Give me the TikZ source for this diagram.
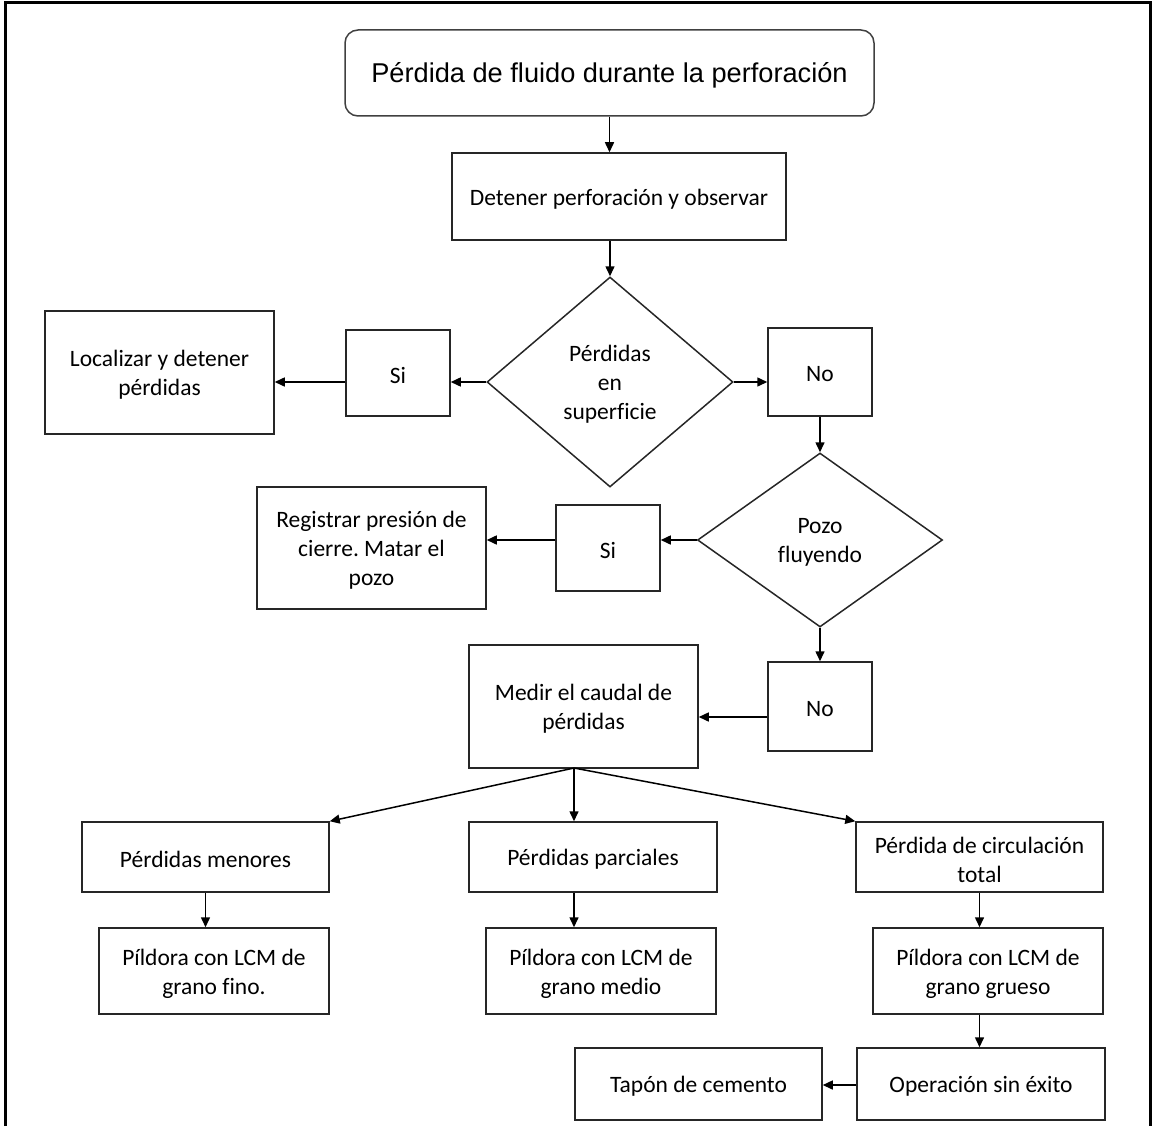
\documentclass[tikz,border=0pt]{standalone}
\usepackage{fontspec}
\usetikzlibrary{shapes.geometric,arrows.meta}
\newfontfamily\carlito[Ligatures=NoCommon]{Carlito}
\newfontfamily\arialf{Liberation Sans}
\frenchspacing
\begin{document}
\begin{tikzpicture}[x=1pt,y=1pt,
  box/.style={draw=black!85, line width=1.5pt, rectangle, inner sep=0pt},
  dec/.style={draw=black!85, line width=1.5pt, diamond, inner sep=0pt},
  lab/.style={inner sep=0pt, align=center, font=\carlito\fontsize{23.5}{29}\selectfont},
  titlebox/.style={draw=black!75, line width=1.5pt, rectangle, rounded corners=13pt, inner sep=0pt},
  titlelab/.style={inner sep=0pt, align=center, font=\arialf\fontsize{27.2}{32}\selectfont},
  arr/.style={draw=black, line width=1.5pt, -{Triangle[length=10pt,width=9pt]}}
]
\useasboundingbox (0,0) rectangle (1155,-1126);
\draw[line width=3pt] (5,-1126) -- (5,-3) -- (1150,-3) -- (1150,-1126);

\node[titlebox, minimum width=529, minimum height=86] (title) at (609.5,-73) {};
\node[box, minimum width=334, minimum height=87] (det) at (619,-196.5) {};
\node[dec, minimum width=246, minimum height=210] (d1) at (610,-382) {};
\node[box, minimum width=104, minimum height=86] (si1) at (398,-373) {};
\node[box, minimum width=229, minimum height=123] (loc) at (159.5,-372.5) {};
\node[box, minimum width=104, minimum height=88] (no1) at (820,-372) {};
\node[dec, minimum width=245, minimum height=174] (d2) at (820,-540) {};
\node[box, minimum width=104, minimum height=86] (si2) at (608,-548) {};
\node[box, minimum width=229, minimum height=122] (reg) at (371.5,-548) {};
\node[box, minimum width=104, minimum height=89] (no2) at (820,-706.5) {};
\node[box, minimum width=229, minimum height=123] (med) at (583.5,-706.5) {};
\node[box, minimum width=247, minimum height=70] (pm) at (205.5,-857) {};
\node[box, minimum width=248, minimum height=70] (pp) at (593,-857) {};
\node[box, minimum width=247, minimum height=70] (pc) at (979.5,-857) {};
\node[box, minimum width=230, minimum height=86] (pil1) at (214,-971) {};
\node[box, minimum width=230, minimum height=86] (pil2) at (601,-971) {};
\node[box, minimum width=230, minimum height=86] (pil3) at (988,-971) {};
\node[box, minimum width=248, minimum height=72] (op) at (981,-1084) {};
\node[box, minimum width=247, minimum height=72] (tap) at (698.5,-1084) {};

\node[titlelab] (titlet) at ([yshift=-2.5pt]title.center) {Pérdida de fluido durante la perforación};
\node[lab] (dett) at ([yshift=-2.5pt]det.center) {Detener perforación y observar};
\node[lab] (d1t) at ([yshift=-2.5pt]d1.center) {Pérdidas\\en\\superficie};
\node[lab] (si1t) at ([yshift=-2.5pt]si1.center) {Si};
\node[lab] (loct) at ([yshift=-2.5pt]loc.center) {Localizar y detener\\pérdidas};
\node[lab] (no1t) at ([yshift=-2.5pt]no1.center) {No};
\node[lab] (d2t) at ([yshift=-2.5pt]d2.center) {Pozo\\fluyendo};
\node[lab] (si2t) at ([yshift=-2.5pt]si2.center) {Si};
\node[lab] (regt) at ([yshift=-2.5pt]reg.center) {Registrar presión de\\cierre. Matar el\\pozo};
\node[lab] (no2t) at ([yshift=-2.5pt]no2.center) {No};
\node[lab] (medt) at ([yshift=-2.5pt]med.center) {Medir el caudal de\\pérdidas};
\node[lab] (pmt) at ([yshift=-2.5pt]pm.center) {Pérdidas menores};
\node[lab] (ppt) at ([yshift=-2.5pt]pp.center) {Pérdidas parciales};
\node[lab] (pct) at ([yshift=-2.5pt]pc.center) {Pérdida de circulación\\total};
\node[lab] (pil1t) at ([yshift=-2.5pt]pil1.center) {Píldora con LCM de\\grano fino.};
\node[lab] (pil2t) at ([yshift=-2.5pt]pil2.center) {Píldora con LCM de\\grano medio};
\node[lab] (pil3t) at ([yshift=-2.5pt]pil3.center) {Píldora con LCM de\\grano grueso};
\node[lab] (opt) at ([yshift=-2.5pt]op.center) {Operación sin éxito};
\node[lab] (tapt) at ([yshift=-2.5pt]tap.center) {Tapón de cemento};

\coordinate (mb) at (574,-768);
\coordinate (la) at (0,-717);
\coordinate (lb) at (0,-1085);

\draw[arr] (title.south) -- (title.south |- det.north);
\draw[arr] (d1.north |- det.south) -- (d1.north);
\draw[arr] (d1.west) -- (d1.west -| si1.east);
\draw[arr] (si1.west |- d1.west) -- (loc.east |- d1.west);
\draw[arr] (d1.east) -- (d1.east -| no1.west);
\draw[arr] (no1.south) -- (d2.north);
\draw[arr] (d2.west) -- (d2.west -| si2.east);
\draw[arr] (si2.west |- d2.west) -- (reg.east |- d2.west);
\draw[arr] (d2.south) -- (no2.north);
\draw[arr] (no2.west |- la) -- (med.east |- la);
\draw[arr] (mb) -- (pm.north east);
\draw[arr] (mb) -- (mb |- pp.north);
\draw[arr] (mb) -- (pc.north west);
\draw[arr] (pm.south) -- (pm.south |- pil1.north);
\draw[arr] (mb |- pp.south) -- (mb |- pil2.north);
\draw[arr] (pc.south) -- (pc.south |- pil3.north);
\draw[arr] (pc.south |- pil3.south) -- (pc.south |- op.north);
\draw[arr] (op.west |- lb) -- (tap.east |- lb);
\end{tikzpicture}
\end{document}
